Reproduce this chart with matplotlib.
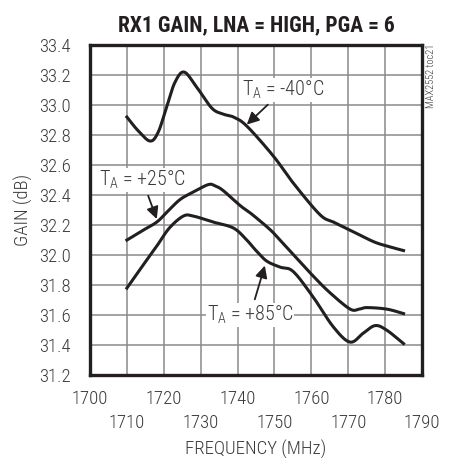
#! /usr/bin/env python

import numpy as np
import matplotlib
matplotlib.use('Agg')
import matplotlib.pyplot as plt

# data
freq_m40 = [1710, 1713, 1716.3, 1718.5, 1720.8, 1723, 1725.5, 1728.9, 1733, 1736, 1738.9, 1742.5,
            1749.7, 1755.1, 1762.3, 1766, 1771, 1776.8, 1780.5, 1785]
gain_m40 = [32.92, 32.83, 32.76, 32.82, 32.99, 33.15, 33.22, 33.12, 32.98, 32.94, 32.92, 32.86,
            32.66, 32.48, 32.27, 32.22, 32.16, 32.09, 32.06, 32.03]

freq_p25 = [1710, 1714, 1718.1, 1721, 1724.4, 1728, 1732.1, 1734, 1736.1, 1740.7, 1744, 1748.8,
            1751.5, 1756, 1760.5, 1765, 1770.5, 1773, 1775, 1780.4, 1785]
gain_p25 = [32.10, 32.16, 32.22, 32.29, 32.37, 32.42, 32.47, 32.46, 32.43, 32.33, 32.27, 32.17,
            32.10, 31.98, 31.86, 31.75, 31.64, 31.64, 31.65, 31.64, 31.61]

freq_p85 = [1710, 1714, 1718.1, 1721.5, 1725.3, 1728, 1733.4, 1738.9, 1742.5, 1745, 1747.9,
            1751.5, 1755.1, 1760.5, 1766, 1770.5, 1774.1, 1777.3, 1780.4, 1785]
gain_p85 = [31.78, 31.92, 32.06, 32.18, 32.26, 32.26, 32.22, 32.18, 32.10, 32.03, 31.96,
            31.92, 31.89, 31.72, 31.52, 31.42, 31.48, 31.53, 31.50, 31.41]

x_ticks_upper = [1700, 1720, 1740, 1760, 1780]
x_ticks_lower = [1710, 1730, 1750, 1770, 1790]
y_ticks = [31.2, 31.4, 31.6, 31.8, 32.0, 32.2, 32.4, 32.6, 32.8, 33.0, 33.2, 33.4]


def smooth(xs, ys):
    # Catmull-Rom curve through the read points
    xs = np.asarray(xs, float)
    ys = np.asarray(ys, float)
    px = np.concatenate([[2 * xs[0] - xs[1]], xs, [2 * xs[-1] - xs[-2]]])
    py = np.concatenate([[2 * ys[0] - ys[1]], ys, [2 * ys[-1] - ys[-2]]])
    outx, outy = [], []
    t = np.linspace(0, 1, 20, endpoint=False)
    for i in range(1, len(px) - 2):
        for arr, out in ((px, outx), (py, outy)):
            p0, p1, p2, p3 = arr[i - 1], arr[i], arr[i + 1], arr[i + 2]
            out.extend(0.5 * ((2 * p1) + (-p0 + p2) * t + (2 * p0 - 5 * p1 + 4 * p2 - p3) * t ** 2
                              + (-p0 + 3 * p1 - 3 * p2 + p3) * t ** 3))
    outx.append(xs[-1])
    outy.append(ys[-1])
    return outx, outy


if __name__ == "__main__":
    plt.rcParams['font.family'] = ['Roboto Condensed', 'DejaVu Sans']
    plt.rcParams['font.weight'] = 300
    plt.rcParams['axes.labelweight'] = 300
    plt.rcParams['mathtext.fontset'] = 'custom'
    plt.rcParams['mathtext.rm'] = 'Roboto Condensed:light'
    plt.rcParams['mathtext.default'] = 'regular'

    ink = '#231f20'
    grey = '#3a3a3a'

    fig = plt.figure(figsize=(4.5, 4.58), dpi=100)
    ax = fig.add_axes([0.2, 0.181, 0.7378, 0.7207])

    for xs, ys in ((freq_m40, gain_m40), (freq_p25, gain_p25), (freq_p85, gain_p85)):
        sx, sy = smooth(xs, ys)
        ax.plot(sx, sy, color=ink, lw=2.2, zorder=3)

    ax.set_xlim(1700, 1790)
    ax.set_ylim(31.2, 33.4)
    ax.set_xticks(x_ticks_upper)
    ax.set_xticklabels([str(v) for v in x_ticks_upper])
    ax.set_xticks(x_ticks_lower, minor=True)
    ax.set_xticklabels([str(v) for v in x_ticks_lower], minor=True)
    ax.set_yticks(y_ticks)
    ax.set_yticklabels(['%.1f' % v for v in y_ticks])
    ax.tick_params(which='both', length=0, labelsize=13.5, colors=grey)
    ax.tick_params(axis='x', which='major', pad=11)
    ax.tick_params(axis='x', which='minor', pad=28)
    ax.tick_params(axis='y', pad=14)
    ax.grid(True, which='both', color='#8a8a8a', lw=1.1)
    ax.set_axisbelow(True)
    for s in ax.spines.values():
        s.set_linewidth(2.4)
        s.set_color(ink)

    ax.set_xlabel('FREQUENCY (MHz)', fontsize=13.5, color=grey, labelpad=6, fontweight=300)
    ax.set_ylabel('GAIN (dB)', fontsize=13.5, color=grey, labelpad=4, fontweight=300)
    ax.set_title('RX1 GAIN, LNA = HIGH, PGA = 6', fontsize=15.5, fontweight='bold',
                 color=ink, pad=10)

    arrow = dict(arrowstyle='-|>', color=ink, lw=1.3, mutation_scale=18)
    box = dict(facecolor='white', edgecolor='none', pad=0.5)
    ax.annotate('T$_{A}$ = -40°C', xy=(1742.5, 32.87), xytext=(1752.4, 33.1),
                fontsize=14.5, ha='center', va='center', color=grey, bbox=box,
                arrowprops=dict(arrow, shrinkA=3, shrinkB=0), zorder=4)
    ax.annotate('T$_{A}$ = +25°C', xy=(1718.1, 32.24), xytext=(1714.2, 32.5),
                fontsize=14.5, ha='center', va='center', color=grey, bbox=box,
                arrowprops=dict(arrow, shrinkA=3, shrinkB=0), zorder=4)
    ax.annotate('T$_{A}$ = +85°C', xy=(1747.4, 31.93), xytext=(1743.4, 31.6),
                fontsize=14.5, ha='center', va='center', color=grey, bbox=box,
                arrowprops=dict(arrow, shrinkA=3, shrinkB=0), zorder=4)

    fig.text(0.958, 0.905, 'MAX2552 toc21', rotation=90, fontsize=7.5, color=grey,
             ha='center', va='top')

    plt.savefig('out.png')
